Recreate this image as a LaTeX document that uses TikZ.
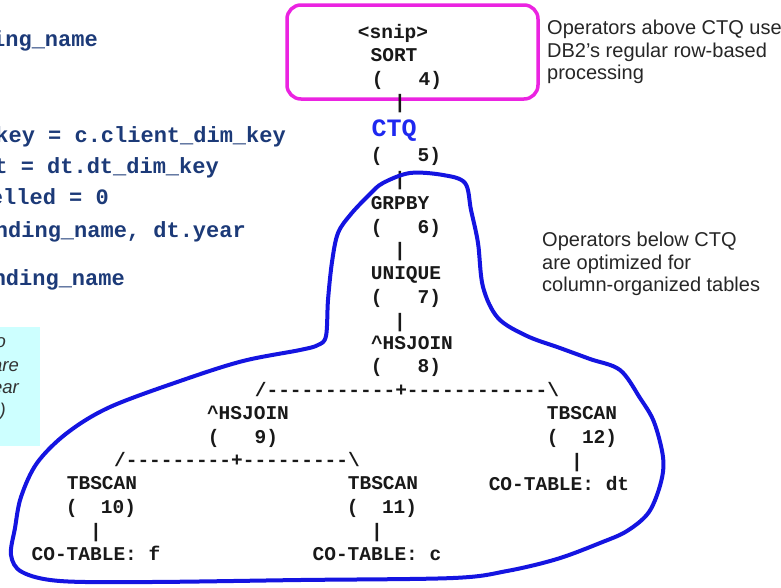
\documentclass[tikz,border=0pt]{standalone}
\usepackage{fontspec}
\usepackage{tikz}
\setmonofont{Liberation Mono}
\newfontfamily\arialfont{Liberation Sans}
\definecolor{codeblue}{RGB}{28,58,120}
\definecolor{ctqblue}{RGB}{30,40,240}
\definecolor{loopblue}{RGB}{20,20,225}
\definecolor{snipmagenta}{RGB}{235,35,225}
\definecolor{notecyan}{RGB}{205,255,255}
\tikzset{
  plan/.style={font=\ttfamily\bfseries\fontsize{19.5}{23}\selectfont, anchor=base, inner sep=0pt, text=black!90},
  code/.style={font=\ttfamily\bfseries\fontsize{22}{26}\selectfont, anchor=base east, inner sep=0pt, text=codeblue},
  note/.style={font=\arialfont\fontsize{20}{22.5}\selectfont, anchor=north west, inner sep=0pt, align=left, text=black!85},
  side/.style={font=\arialfont\itshape\fontsize{18.5}{21}\selectfont, anchor=base east, inner sep=0pt, text=black!80},
}
\begin{document}
\begin{tikzpicture}[line cap=round,line join=round,x=1pt,y=-1pt]
\useasboundingbox (0,0) rectangle (781,587);
\fill[white] (0,0) rectangle (781,587);
\clip (0,0) rectangle (781,587);
% query text, cut at the left edge
\node[code] (sel) at (98,46) {ing\_name};
\node[code] (join1) at (286,142) {key = c.client\_dim\_key};
\node[code] (join2) at (219,173) {t = dt.dt\_dim\_key};
\node[code] (filt) at (109,204) {elled = 0};
\node[code] (grp) at (246,237) {nding\_name, dt.year};
\node[code] (ord) at (125,285) {nding\_name};
% side note
\fill[notecyan] (-5,327) rectangle (40,446);
\node[side] (sideA) at (6,347) {o};
\node[side] (sideB) at (19,371) {are};
\node[side] (sideC) at (19,393) {ear};
\node[side] (sideD) at (6,416) {)};
% row-based part
\draw[snipmagenta, line width=3.5pt, rounded corners=14pt] (287,5) rectangle (538,99);
\node[plan] (snip) at (393,38) {<snip>};
\node[plan] (sort) at (394,61) {SORT};
\node[plan] (p4) at (407,85) {(~~~4)};
\node[plan] (bar4) at (400,108) {|};
\node[plan, font=\ttfamily\bfseries\fontsize{25}{28}\selectfont, text=ctqblue] (ctq) at (394,136) {CTQ};
\node[plan] (p5) at (406,161) {(~~~5)};
\node[plan] (bar5) at (400,185) {|};
% column-organized part
\node[plan] (grpby) at (400,209) {GRPBY};
\node[plan] (p6) at (406,233) {(~~~6)};
\node[plan] (bar6) at (400,256) {|};
\node[plan] (unique) at (406,279) {UNIQUE};
\node[plan] (p7) at (406,303) {(~~~7)};
\node[plan] (bar7) at (400,327) {|};
\node[plan] (hsjoinA) at (412,349) {\textasciicircum HSJOIN};
\node[plan] (p8) at (406,372) {(~~~8)};
\node[plan] (split8) at (407,396) {/-----------+------------\textbackslash};
\node[plan] (hsjoinB) at (248,419) {\textasciicircum HSJOIN};
\node[plan] (p9) at (243,443) {(~~~9)};
\node[plan] (tbscanR) at (582,419) {TBSCAN};
\node[plan] (p12) at (582,443) {(~~12)};
\node[plan] (bar12) at (577,467) {|};
\node[plan] (tabdt) at (559,490) {CO-TABLE: dt};
\node[plan] (split9) at (237,466) {/---------+---------\textbackslash};
\node[plan] (tbscanL) at (102,489) {TBSCAN};
\node[plan] (p10) at (101,513) {(~~10)};
\node[plan] (bar10) at (96,537) {|};
\node[plan] (tabf) at (96,560) {CO-TABLE: f};
\node[plan] (tbscanM) at (383,489) {TBSCAN};
\node[plan] (p11) at (382,513) {(~~11)};
\node[plan] (bar11) at (377,537) {|};
\node[plan] (tabc) at (377,560) {CO-TABLE: c};
% hand drawn loop
\draw[loopblue, line width=4pt] plot[smooth cycle, tension=0.55] coordinates {
  (383,183) (410,173) (443,175) (465,183) (471,210) (478,243) (483,287)
  (498,318) (527,336) (560,348) (590,359) (620,370) (640,398) (654,422)
  (663,457) (661,482) (649,512) (627,531) (600,543) (557,559) (507,571)
  (453,578) (300,580) (150,582) (60,581) (22,572) (11,555) (15,528)
  (21,497) (37,463) (67,433) (110,407) (183,380) (243,361) (300,350)
  (318,345) (326,336) (328,300) (332,262) (338,233) (351,214) (370,194)};
% notes on the right
\node[note] (noteabove) at (547,20) {Operators above CTQ use\\DB2’s regular row-based\\processing};
\node[note] (notebelow) at (542,232) {Operators below CTQ\\are optimized for\\column-organized tables};
\end{tikzpicture}
\end{document}
